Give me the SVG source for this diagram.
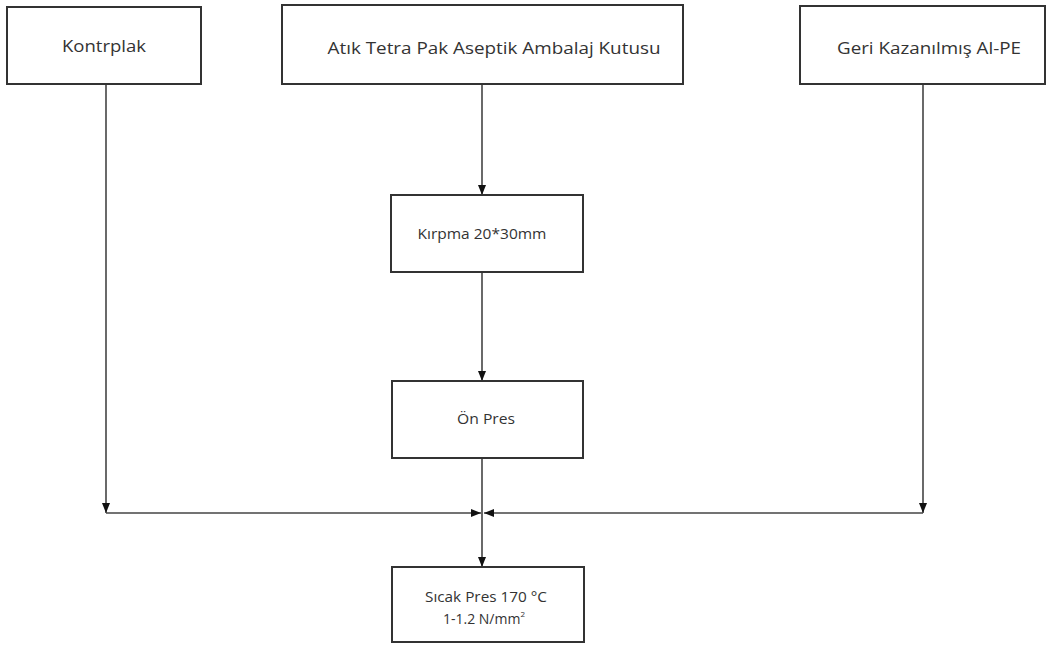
<svg xmlns="http://www.w3.org/2000/svg" width="1051" height="646" viewBox="0 0 1051 646">
<style>
.box{fill:#fff;stroke:#333;stroke-width:2}
.lbl{font-family:"Open Sans","Liberation Sans",sans-serif;fill:#333;text-anchor:middle;dominant-baseline:central}
.big{font-size:17px}
.sm{font-size:14px}
.con{stroke:#444;stroke-width:1.6;fill:none;marker-end:url(#ah)}
</style>
<defs>
<marker id="ah" markerUnits="userSpaceOnUse" markerWidth="10" markerHeight="10" viewBox="0 0 10 10" refX="10" refY="5" orient="auto">
<path d="M0,1 L10,5 L0,9 Z" fill="#111"/>
</marker>
</defs>
<rect width="1051" height="646" fill="#fff"/>
<g id="connectors">
<line class="con" x1="482" y1="85" x2="482" y2="195"/>
<line class="con" x1="482" y1="273" x2="482" y2="381"/>
<line class="con" x1="482" y1="459" x2="482" y2="567"/>
<line class="con" x1="106" y1="85" x2="106" y2="513"/>
<line class="con" x1="106" y1="513" x2="481" y2="513"/>
<line class="con" x1="923" y1="85" x2="923" y2="513"/>
<line class="con" x1="923" y1="513" x2="484" y2="513"/>
</g>
<g id="kontrplak">
<rect class="box" x="7" y="7" width="194" height="77"/>
<text class="lbl big" x="104" y="45" textLength="84" lengthAdjust="spacingAndGlyphs">Kontrplak</text>
</g>
<g id="tetra">
<rect class="box" x="282" y="5" width="401" height="79"/>
<text class="lbl big" x="494" y="47" textLength="333" lengthAdjust="spacingAndGlyphs">Atık Tetra Pak Aseptik Ambalaj Kutusu</text>
</g>
<g id="geri">
<rect class="box" x="800" y="6" width="245" height="78"/>
<text class="lbl big" x="929" y="47" textLength="184" lengthAdjust="spacingAndGlyphs">Geri Kazanılmış Al-PE</text>
</g>
<g id="kirpma">
<rect class="box" x="391" y="195" width="192" height="77"/>
<text class="lbl sm" x="482" y="233" textLength="129" lengthAdjust="spacingAndGlyphs">Kırpma 20*30mm</text>
</g>
<g id="onpres">
<rect class="box" x="392" y="381" width="191" height="77"/>
<text class="lbl sm" x="486" y="418" textLength="58" lengthAdjust="spacingAndGlyphs">Ön Pres</text>
</g>
<g id="sicak">
<rect class="box" x="392" y="567" width="192" height="75"/>
<text class="lbl sm" x="486" y="596" textLength="122" lengthAdjust="spacingAndGlyphs">Sıcak Pres 170 °C</text>
<text class="lbl sm" x="484" y="618">1-1.2 N/mm<tspan font-size="8" dy="-5">2</tspan></text>
</g>
</svg>
